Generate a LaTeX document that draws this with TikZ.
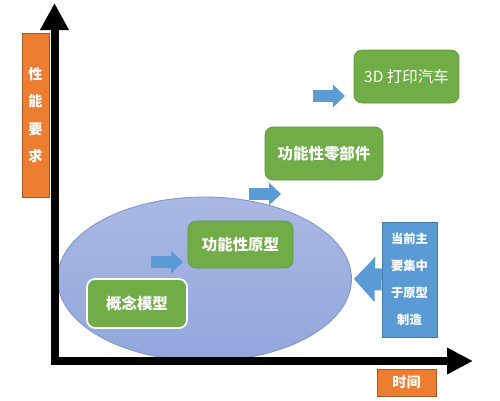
\documentclass[tikz,border=0pt]{standalone}
\usepackage{fontspec}
\usepackage{tikz}
\usetikzlibrary{positioning, arrows.meta, shapes.geometric}
\newfontfamily\cjk{Noto Sans CJK SC}
\definecolor{axisorange}{HTML}{ED7D31}
\definecolor{stagegreen}{HTML}{70AD47}
\definecolor{stageline}{HTML}{5E9A3A}
\definecolor{noteblue}{HTML}{5B9BD5}
\definecolor{bubbletop}{HTML}{AAB8E3}
\definecolor{bubblebot}{HTML}{91A7DC}
\definecolor{bubbleline}{HTML}{7F96CF}

\begin{document}
\begin{tikzpicture}[
  x=0.02cm, y=-0.02cm,
  axis/.style={line width=0.16cm, line join=miter, black},
  axislabel/.style={fill=axisorange, draw=axisorange!70!black, line width=0.3pt,
    text=white, inner sep=0pt, align=center, font=\cjk\bfseries\fontsize{8pt}{15.6pt}\selectfont},
  stage/.style={fill=stagegreen, draw=stageline, line width=0.4pt,
    rounded corners=0.16cm, text=white, align=center,
    font=\cjk\bfseries\fontsize{8.8pt}{10pt}\selectfont},
  notebox/.style={fill=noteblue, draw=noteblue!80!black, line width=0.3pt,
    text=white, inner sep=0pt, align=center,
    font=\cjk\bfseries\fontsize{7pt}{15.4pt}\selectfont},
  steparrow/.style={line width=0.24cm, noteblue,
    -{Triangle[length=0.24cm, width=0.44cm]}},
  fatarrow/.style={line width=0.44cm, noteblue,
    -{Triangle[length=0.42cm, width=0.88cm]}},
]
\useasboundingbox (0,0) rectangle (500,400);

% ===== Focus region =====
\node[ellipse, minimum width=5.88cm, minimum height=3.28cm, draw=bubbleline,
  line width=0.5pt, top color=bubbletop, bottom color=bubblebot]
  (bubble) at (204.5, 279) {};

% ===== Stages =====
\node[stage, draw=white, line width=1pt, minimum width=2.0cm, minimum height=0.98cm]
  (concept) at (137, 303.5) {概念模型};
\node[stage, minimum width=2.1cm, minimum height=0.94cm]
  (proto) at (240.5, 244.5) {功能性原型};
\node[stage, minimum width=2.36cm, minimum height=1.06cm]
  (parts) at (324, 153.5) {功能性零部件};
\node[stage, font=\cjk\fontsize{8.8pt}{10pt}\selectfont,
  minimum width=2.1cm, minimum height=1.06cm]
  (car) at (406.5, 76.5) {3D 打印汽车};

% step arrows
\coordinate (s1a) at (151, 262);
\coordinate (s1b) at (183, 262);
\coordinate (s2a) at (249, 194);
\coordinate (s2b) at (281, 194);
\coordinate (s3a) at (313, 96);
\coordinate (s3b) at (345, 96);
\draw[steparrow] (s1a) -- (s1b);
\draw[steparrow] (s2a) -- (s2b);
\draw[steparrow] (s3a) -- (s3b);

% ===== Note =====
\node[notebox, minimum width=1.1cm, minimum height=2.3cm]
  (note) at (409.5, 279.5) {当前主\\要集中\\于原型\\制造};
\draw[fatarrow, shorten >=0.04cm] (note.west) -- (bubble.east);

% ===== Axes =====
\coordinate (ytip) at (54.5, 3);
\coordinate (origin) at (54.5, 361);
\coordinate (xtip) at (473, 361);
\draw[axis, {Triangle[length=0.54cm, width=0.54cm]}-{Triangle[length=0.52cm, width=0.5cm]}]
  (ytip) -- (origin) -- (xtip);

\node[axislabel, minimum width=0.54cm, minimum height=3.28cm]
  (ylabel) at (35.5, 115) {性\\能\\要\\求};
\node[axislabel, minimum width=1.18cm, minimum height=0.54cm]
  (xlabel) at (406.5, 382.5) {时间};

\end{tikzpicture}
\end{document}
